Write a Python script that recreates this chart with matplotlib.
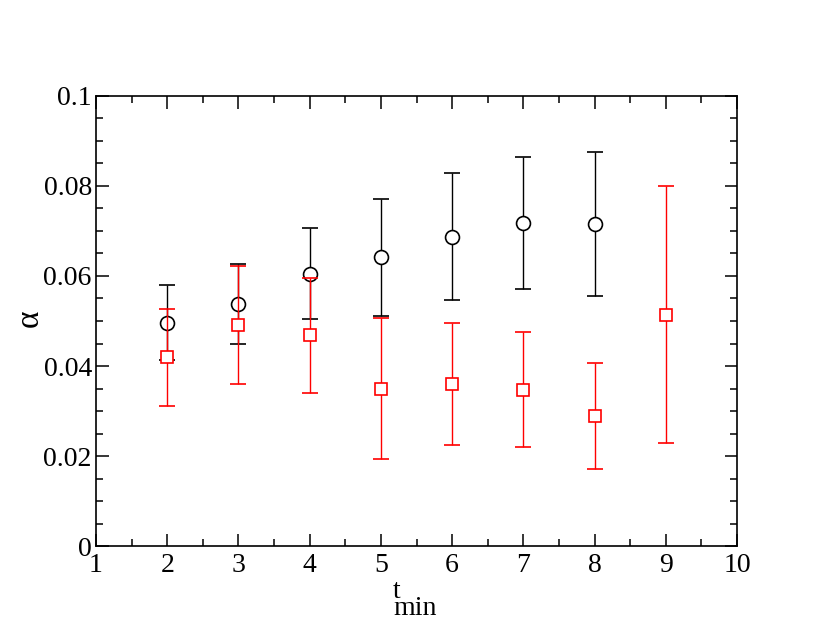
import matplotlib.pyplot as plt
import numpy as np

plt.rcParams['font.family'] = ['Liberation Serif', 'DejaVu Serif']

# black circles
t_black = [2, 3, 4, 5, 6, 7, 8]
a_black = [0.0496, 0.0537, 0.0605, 0.0642, 0.0687, 0.0718, 0.0716]
e_black = [0.0083, 0.0089, 0.0101, 0.0130, 0.0141, 0.0146, 0.0160]

# red squares
t_red = [2, 3, 4, 5, 6, 7, 8, 9]
a_red = [0.0419, 0.0491, 0.0468, 0.0350, 0.0360, 0.0347, 0.0289, 0.0514]
e_red = [0.0107, 0.0131, 0.0127, 0.0157, 0.0136, 0.0128, 0.0118, 0.0285]

fig = plt.figure(figsize=(8.3, 6.42), dpi=100)
ax = fig.add_axes([0.1157, 0.1495, 0.7723, 0.701])

ax.errorbar(t_black, a_black, yerr=e_black, fmt='o', color='black', mfc='white',
            mec='black', ms=10, mew=1.2, elinewidth=1.0, capsize=6, capthick=1.0, zorder=3)
ax.errorbar(t_red, a_red, yerr=e_red, fmt='s', color='red', mfc='white',
            mec='red', ms=8, mew=1.2, elinewidth=1.0, capsize=6, capthick=1.0, zorder=4)

ax.set_xlim(1, 10)
ax.set_ylim(0, 0.1)
ax.set_xticks(np.arange(1, 11, 1))
ax.set_xticks(np.arange(1, 10.01, 0.5), minor=True)
ax.set_yticks([0, 0.02, 0.04, 0.06, 0.08, 0.1])
ax.set_yticklabels(['0', '0.02', '0.04', '0.06', '0.08', '0.1'])
ax.set_yticks(np.arange(0, 0.1001, 0.005), minor=True)

ax.tick_params(which='both', direction='in', top=True, right=True, labelsize=20, width=1.1)
ax.tick_params(which='major', length=9, pad=3)
ax.tick_params(axis='x', which='major', pad=5)
ax.tick_params(which='minor', length=5)
for s in ax.spines.values():
    s.set_linewidth(1.2)

# axis labels (xmgrace style: t with a large, dropped "min")
fig.text(393 / 830, 1 - 615 / 642, 't\nmin', fontsize=20, ha='left', va='baseline',
         multialignment='left', linespacing=0.56)
fig.text(29 / 830, 1 - 318 / 642, 'α', fontsize=24, rotation=90, ha='center', va='center')

plt.savefig('out.png', dpi=100)
